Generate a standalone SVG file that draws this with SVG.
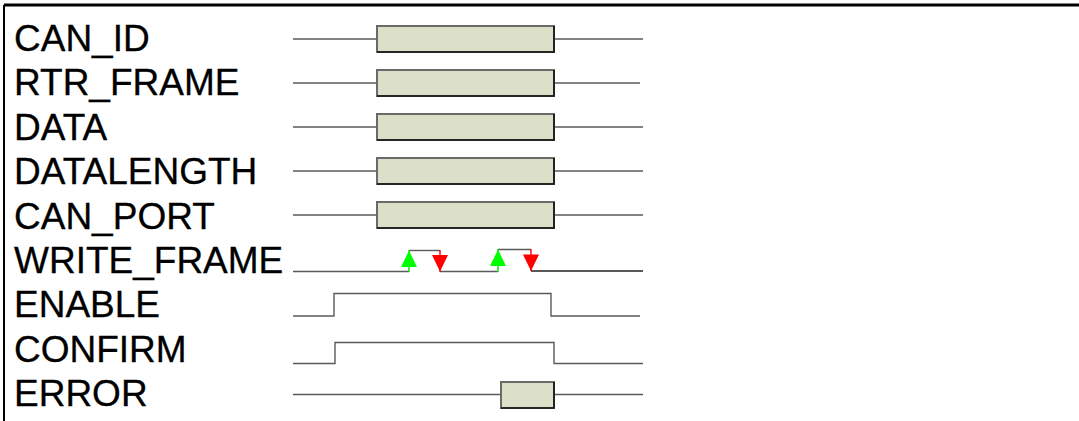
<svg xmlns="http://www.w3.org/2000/svg" width="1079" height="421" viewBox="0 0 1079 421">
<style>
.lbl{font-family:"Liberation Sans",Arial,sans-serif;font-size:37px;fill:#000;stroke:#000;stroke-width:0.3}
.sig{fill:none;stroke:#5a5a5a;stroke-width:1.4}
.box{fill:#dce0c8;stroke:#6a6a6a;stroke-width:2}
.sh{fill:none;stroke:#111;stroke-width:1.6}
.frame{fill:none;stroke:#000;stroke-width:3}
</style>
<rect width="1079" height="421" fill="#fff"/>
<g id="frame">
<line class="frame" x1="4" y1="5" x2="1079" y2="5"/>
<line class="frame" x1="4" y1="5" x2="4" y2="421" style="stroke-width:2"/>
</g>
<g id="row-can-id">
<text class="lbl" x="14" y="51">CAN_ID</text>
<line class="sig" x1="293" y1="39" x2="377" y2="39"/>
<line class="sig" x1="554" y1="39" x2="643" y2="39"/>
<rect class="box" x="377" y="26" width="177" height="26"/>
<polyline class="sh" points="377,52 554,52 554,26"/>
</g>
<g id="row-rtr-frame">
<text class="lbl" x="14" y="95.4">RTR_FRAME</text>
<line class="sig" x1="293" y1="83" x2="377" y2="83"/>
<line class="sig" x1="554" y1="83" x2="640" y2="83"/>
<rect class="box" x="377" y="70" width="177" height="26"/>
<polyline class="sh" points="377,96 554,96 554,70"/>
</g>
<g id="row-data">
<text class="lbl" x="14" y="139.8">DATA</text>
<line class="sig" x1="293" y1="127" x2="377" y2="127"/>
<line class="sig" x1="554" y1="127" x2="643" y2="127"/>
<rect class="box" x="377" y="114" width="177" height="26"/>
<polyline class="sh" points="377,140 554,140 554,114"/>
</g>
<g id="row-datalength">
<text class="lbl" x="14" y="184.2">DATALENGTH</text>
<line class="sig" x1="293" y1="171" x2="377" y2="171"/>
<line class="sig" x1="554" y1="171" x2="643" y2="171"/>
<rect class="box" x="377" y="158" width="177" height="26"/>
<polyline class="sh" points="377,184 554,184 554,158"/>
</g>
<g id="row-can-port">
<text class="lbl" x="14" y="228.6">CAN_PORT</text>
<line class="sig" x1="293" y1="215" x2="377" y2="215"/>
<line class="sig" x1="554" y1="215" x2="643" y2="215"/>
<rect class="box" x="377" y="202" width="177" height="26"/>
<polyline class="sh" points="377,228 554,228 554,202"/>
</g>
<g id="row-write-frame">
<text class="lbl" x="14" y="273">WRITE_FRAME</text>
<polyline class="sig" points="293,271.5 409,271.5"/>
<polyline class="sig" points="409,250.5 440,250.5"/>
<polyline class="sig" points="440,271.5 498,271.5"/>
<polyline class="sig" points="498,249.5 531,249.5"/>
<polyline class="sig" points="531,271 643,271" style="stroke:#222"/>
<line x1="409" y1="250" x2="409" y2="272" stroke="#00e000" stroke-width="1.4"/>
<line x1="498" y1="249" x2="498" y2="272" stroke="#00e000" stroke-width="1.4"/>
<line x1="440" y1="250" x2="440" y2="272" stroke="#ff0000" stroke-width="1.4"/>
<line x1="531" y1="249" x2="531" y2="271" stroke="#ff0000" stroke-width="1.4"/>
<polygon points="409,250.5 401,267 417,267" fill="#00ff00"/>
<polygon points="498,249.5 490,266 506,266" fill="#00ff00"/>
<polygon points="432,255 448,255 440,271.5" fill="#ff0000"/>
<polygon points="523,254.5 539,254.5 531,271" fill="#ff0000"/>
</g>
<g id="row-enable">
<text class="lbl" x="14" y="317.4">ENABLE</text>
<polyline class="sig" points="293,316 334,316 334,293.5 551,293.5 551,316 640,316"/>
</g>
<g id="row-confirm">
<text class="lbl" x="14" y="361.8">CONFIRM</text>
<polyline class="sig" points="293,363.5 335,363.5 335,342.5 554,342.5 554,363.5 643,363.5"/>
</g>
<g id="row-error">
<text class="lbl" x="14" y="406.2">ERROR</text>
<line class="sig" x1="293" y1="394.5" x2="501" y2="394.5"/>
<line class="sig" x1="554" y1="394.5" x2="643" y2="394.5"/>
<rect class="box" x="501" y="382" width="53" height="26"/>
<polyline class="sh" points="501,408 554,408 554,382"/>
</g>
</svg>
